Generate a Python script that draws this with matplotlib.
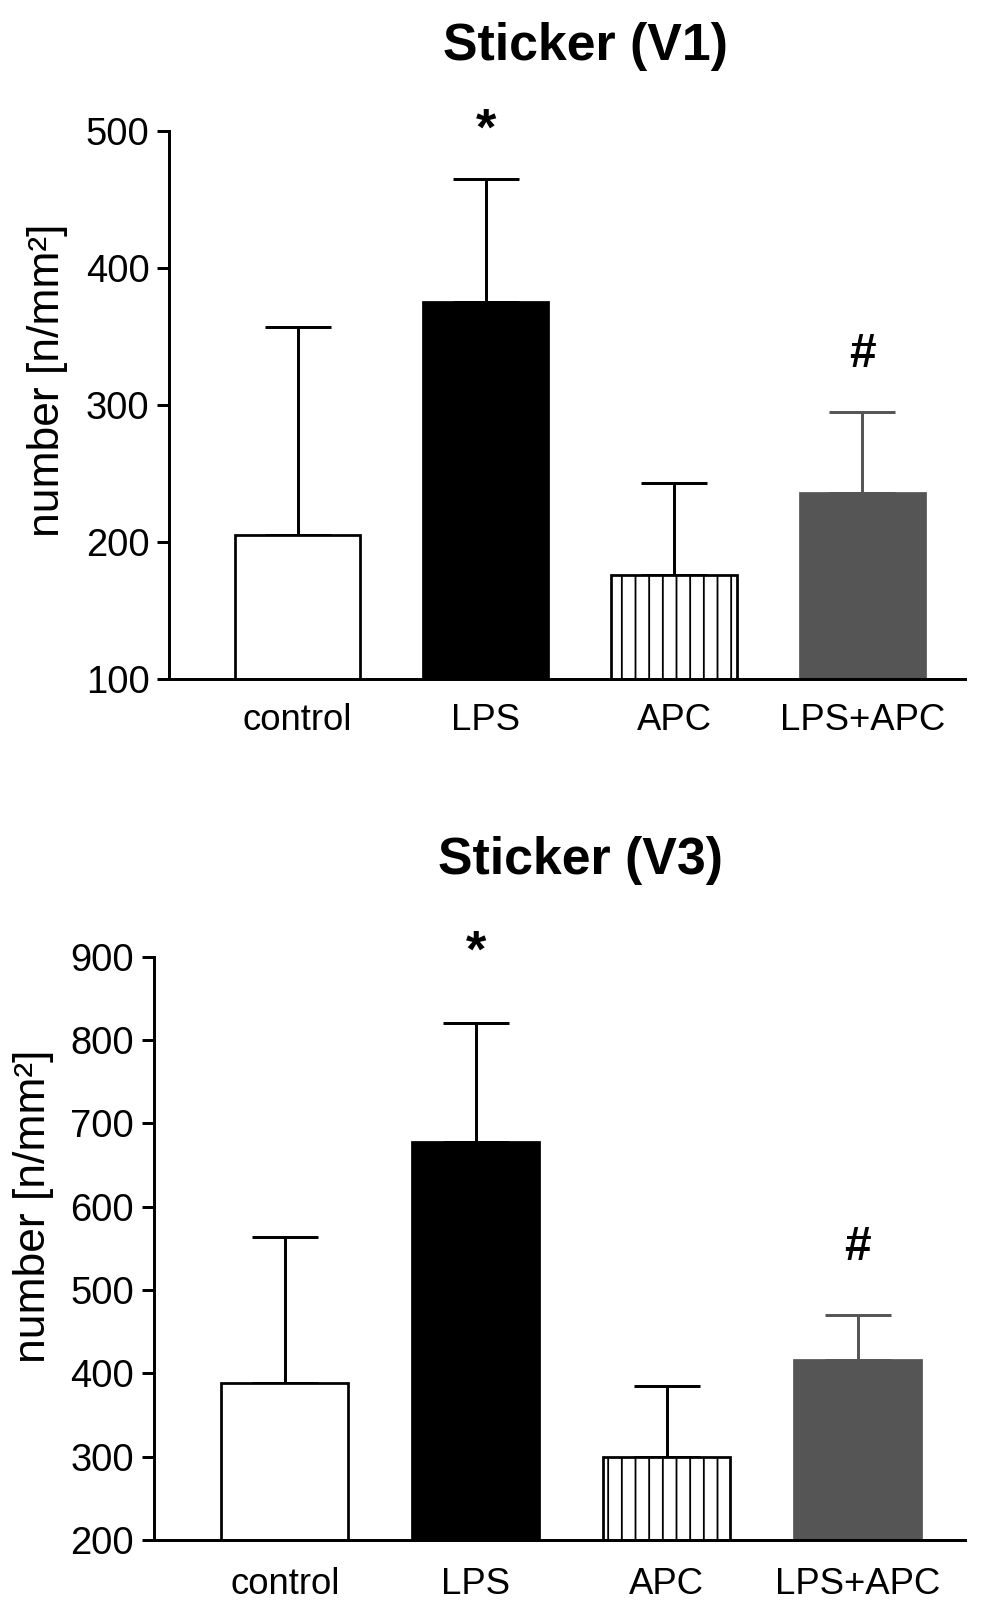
import matplotlib
matplotlib.use("Agg")
import matplotlib.pyplot as plt

groups = ["control", "LPS", "APC", "LPS+APC"]

v1_mean = [205, 375, 176, 236]
v1_err = [152, 90, 67, 59]

v3_mean = [388, 678, 299, 416]
v3_err = [176, 143, 86, 54]

face = ["white", "black", "white", "#555555"]
hatches = ["", "", "|", ""]
err_col = ["black", "black", "black", "#555555"]

plt.rcParams["font.family"] = ["Liberation Sans", "DejaVu Sans"]
plt.rcParams["hatch.linewidth"] = 1.6

# dpi 82 so the '|' hatch spacing matches the picture
fig = plt.figure(figsize=(1004 / 82, 1610 / 82), dpi=82)

ax1 = fig.add_axes([0.1687, 0.5785, 0.7924, 0.3399])
ax2 = fig.add_axes([0.1534, 0.0435, 0.8078, 0.3622])


def draw(ax, means, errs, ylim, step, xlim):
    x = list(range(len(groups)))
    for i in x:
        ax.errorbar(i, means[i], yerr=[[0], [errs[i]]], fmt="none",
                    ecolor=err_col[i], elinewidth=2.6, capsize=29,
                    capthick=2.6, zorder=1)
    ax.bar(x, means, width=0.665, bottom=0, color=face, edgecolor="black",
           linewidth=2.4, hatch=hatches, zorder=2)
    # gray bar gets a gray outline
    ax.patches[3].set_edgecolor("#555555")
    ax.set_ylim(ylim)
    ax.set_xlim(xlim)
    ax.set_yticks(range(ylim[0], ylim[1] + 1, step))
    ax.set_xticks(x)
    ax.set_xticklabels(groups, fontsize=32)
    ax.tick_params(axis="x", length=0, pad=21)
    ax.tick_params(axis="y", length=10.5, width=2.6, labelsize=33.5, pad=7)
    ax.spines["top"].set_visible(False)
    ax.spines["right"].set_visible(False)
    ax.spines["left"].set_linewidth(2.6)
    ax.spines["bottom"].set_linewidth(2.6)
    ax.set_ylabel("number [n/mm²]", fontsize=39)


draw(ax1, v1_mean, v1_err, (100, 500), 100, (-0.682, 3.546))
draw(ax2, v3_mean, v3_err, (200, 900), 100, (-0.685, 3.562))

ax1.yaxis.set_label_coords(-0.128, 0.546)
ax2.yaxis.set_label_coords(-0.123, 0.573)
ax2.tick_params(axis="x", pad=24)

ax1.text(1, 500, "*", fontsize=46, fontweight="bold", ha="center",
         va="center", clip_on=False)
ax1.text(3, 337, "#", fontsize=42, fontweight="bold", ha="center", va="center")
ax2.text(1, 905, "*", fontsize=46, fontweight="bold", ha="center",
         va="center", clip_on=False)
ax2.text(3, 551, "#", fontsize=42, fontweight="bold", ha="center", va="center")

fig.text(0.583, 0.9714, "Sticker (V1)", fontsize=45.5, fontweight="bold",
         ha="center", va="center")
fig.text(0.578, 0.4658, "Sticker (V3)", fontsize=45.5, fontweight="bold",
         ha="center", va="center")

fig.savefig("out.png", dpi=82)
